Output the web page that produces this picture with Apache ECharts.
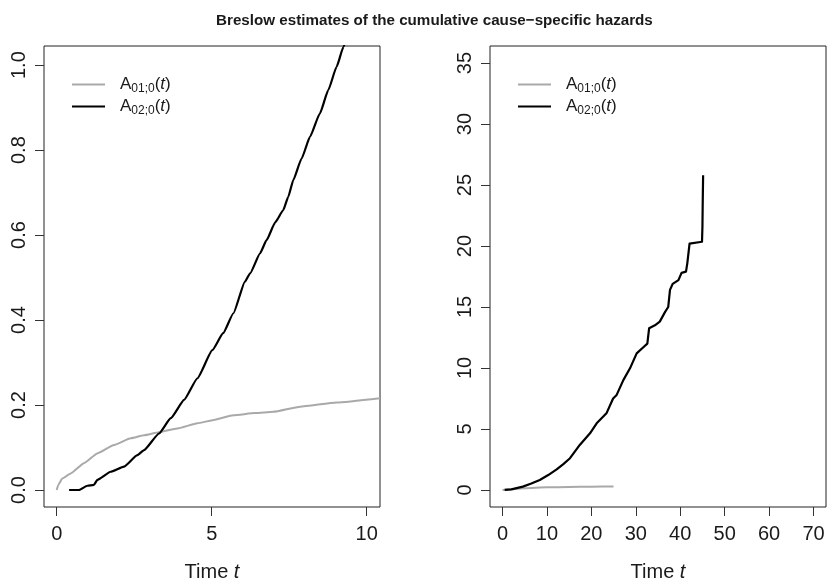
<!DOCTYPE html>
<html>
<head>
<meta charset="utf-8">
<script src="https://cdn.jsdelivr.net/npm/echarts@6/dist/echarts.min.js"></script>
<style>
  html, body { margin: 0; padding: 0; background: #ffffff; }
  #chart { width: 827px; height: 580px; }
</style>
</head>
<body>
<div id="chart"></div>
<script>
// Breslow cumulative cause-specific hazard estimates, two panels.

// Left panel: follow-up window 0..10
const leftTime01 = [0, 0.05, 0.18, 0.45, 0.88, 1.31, 1.85, 2.39, 2.82, 3.30, 3.89, 4.54, 5.07, 5.70, 6.40, 6.99, 7.85, 9.03, 10.43];
const leftHaz01  = [0, 0.012, 0.027, 0.039, 0.063, 0.086, 0.106, 0.122, 0.129, 0.136, 0.145, 0.157, 0.165, 0.176, 0.181, 0.184, 0.196, 0.206, 0.216];

const leftTime02 = [0.40, 0.72, 0.99, 1.20, 1.31, 1.74, 2.17, 2.60, 2.82, 3.30, 3.68, 4.11, 4.54, 5.02, 5.37, 5.70, 6.07, 6.24, 6.56, 6.77, 7.05, 7.31, 7.47, 7.63, 7.90, 8.17, 8.49, 8.76, 9.03, 9.25, 9.60, 10.00, 10.43];
const leftHaz02  = [0, 0, 0.010, 0.012, 0.024, 0.043, 0.055, 0.082, 0.094, 0.133, 0.169, 0.212, 0.263, 0.329, 0.369, 0.416, 0.490, 0.510, 0.557, 0.588, 0.630, 0.659, 0.690, 0.729, 0.780, 0.831, 0.886, 0.941, 0.996, 1.043, 1.12, 1.21, 1.31];

// Right panel: full follow-up
const rightTime01 = [0, 2, 5, 10, 15, 20, 25];
const rightHaz01  = [0, 0.05, 0.13, 0.21, 0.24, 0.27, 0.29];

const rightTime02 = [0.5, 2, 4.6, 6.5, 8.4, 10.3, 12.2, 13.7, 15.2, 17.4, 19.7, 21.2, 23.4, 24.9, 25.7, 27.2, 28.7, 30.2, 31.7, 32.6, 33.0, 34.3, 35.4, 36.6, 37.3, 37.7, 38.3, 39.6, 40.3, 41.3, 41.6, 42.1, 44.9, 45.0, 45.05, 45.15];
const rightHaz02  = [0, 0.05, 0.27, 0.52, 0.82, 1.22, 1.69, 2.12, 2.6, 3.69, 4.64, 5.46, 6.28, 7.5, 7.79, 9.0, 9.97, 11.2, 11.7, 12.0, 13.25, 13.5, 13.8, 14.6, 15.0, 16.4, 16.9, 17.2, 17.8, 17.9, 18.6, 20.2, 20.35, 21.6, 23.2, 25.8];

// Axis ticks
const leftXTicks  = [0, 5, 10];
const leftYTicks  = [0, 0.2, 0.4, 0.6, 0.8, 1.0];
const leftYLabels = ['0.0', '0.2', '0.4', '0.6', '0.8', '1.0'];
const rightXTicks = [0, 10, 20, 30, 40, 50, 60, 70];
const rightYTicks = [0, 5, 10, 15, 20, 25, 30, 35];

const seriesNames = ['A01', 'A02'];
const FONT = '"Liberation Sans", Arial, Helvetica, sans-serif';
const GRAY = '#a9a9a9';
const INK = '#1a1a1a';

const pairs = (t, v) => t.map((x, i) => [x, v[i]]);

function xAxisFor(gridIndex, min, max, ticks) {
  return {
    type: 'value', gridIndex, min, max,
    axisLine: { show: false, onZero: false },
    splitLine: { show: false },
    axisTick: { show: true, length: 9, customValues: ticks, lineStyle: { color: '#333', width: 1 } },
    axisLabel: { customValues: ticks, fontSize: 20, margin: 17, color: INK, fontFamily: FONT },
    name: '{n|Time }{i|t}',
    nameLocation: 'middle',
    nameGap: 55,
    nameTextStyle: {
      rich: {
        n: { fontSize: 20, color: INK, fontFamily: FONT },
        i: { fontSize: 20, color: INK, fontFamily: FONT, fontStyle: 'italic' }
      }
    }
  };
}

function yAxisFor(gridIndex, min, max, ticks, fmt) {
  return {
    type: 'value', gridIndex, min, max,
    axisLine: { show: false, onZero: false },
    splitLine: { show: false },
    axisTick: { show: true, length: 9, customValues: ticks, lineStyle: { color: '#333', width: 1 } },
    axisLabel: { customValues: ticks, rotate: 90, fontSize: 20, margin: 15, color: INK, fontFamily: FONT, formatter: fmt }
  };
}

const legendRich = {
  p: { fontSize: 17, color: INK, fontFamily: FONT, padding: [0, 0, 0, 10], lineHeight: 22 },
  a: { fontSize: 17, color: INK, fontFamily: FONT, lineHeight: 22 },
  s: { fontSize: 12, color: INK, fontFamily: FONT, lineHeight: 22, padding: [9, 0, 0, 0] },
  i: { fontSize: 17, color: INK, fontFamily: FONT, fontStyle: 'italic', lineHeight: 22 }
};
const legendFormat = name => {
  const sub = name === 'A01' ? '01;0' : '02;0';
  return '{p|A}{s|' + sub + '}{a|(}{i|t}{a|)}';
};
function legendAt(left, top) {
  return {
    data: seriesNames, orient: 'vertical', left, top,
    icon: 'rect', itemWidth: 33, itemHeight: 2, itemGap: 1,
    padding: 0, selectedMode: false,
    formatter: legendFormat,
    textStyle: { rich: legendRich }
  };
}

function lineSeries(name, xi, data, color, width, smooth) {
  return {
    name, type: 'line', xAxisIndex: xi, yAxisIndex: xi,
    data, showSymbol: false, symbol: 'none', clip: true,
    smooth, smoothMonotone: 'x',
    lineStyle: { color, width, join: 'round' },
    itemStyle: { color },
    animation: false
  };
}

const panelGrid = left => ({
  left, top: 46, width: 336, height: 461,
  outerBoundsMode: 'none', containLabel: false,
  show: true, borderColor: '#222', borderWidth: 1, backgroundColor: 'transparent'
});

const chart = echarts.init(document.getElementById('chart'), null, { renderer: 'canvas' });
chart.setOption({
  backgroundColor: '#ffffff',
  animation: false,
  title: {
    text: 'Breslow estimates of the cumulative cause\u2212specific hazards',
    left: 216, top: 13, padding: 0,
    textStyle: { fontSize: 15.2, fontWeight: 'bold', color: INK, fontFamily: FONT }
  },
  legend: [legendAt(72, 74), legendAt(518, 74)],
  grid: [panelGrid(44), panelGrid(490)],
  xAxis: [
    xAxisFor(0, -0.41, 10.43, leftXTicks),
    xAxisFor(1, -2.8, 72.8, rightXTicks)
  ],
  yAxis: [
    yAxisFor(0, -0.04, 1.045, leftYTicks, v => leftYLabels[leftYTicks.findIndex(t => Math.abs(t - v) < 1e-9)] ?? String(v)),
    yAxisFor(1, -1.4, 36.4, rightYTicks, v => String(v))
  ],
  series: [
    lineSeries('A01', 0, pairs(leftTime01, leftHaz01), GRAY, 2, 0.15),
    lineSeries('A02', 0, pairs(leftTime02, leftHaz02), '#000000', 2.2, 0.15),
    lineSeries('A01', 1, pairs(rightTime01, rightHaz01), GRAY, 2, 0.15),
    lineSeries('A02', 1, pairs(rightTime02, rightHaz02), '#000000', 2.2, false)
  ]
});
</script>
</body>
</html>
